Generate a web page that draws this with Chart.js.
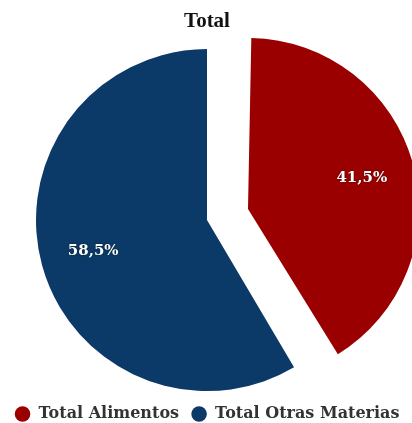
<!DOCTYPE html>
<html>
<head>
<meta charset="utf-8">
<script src="https://cdn.jsdelivr.net/npm/chart.js@4"></script>
<style>
    html, body { margin: 0; padding: 0; background: #fff; }
    #wrap { width: 412px; height: 423px; }
</style>
</head>
<body>
<div id="wrap"><canvas id="totalChart"></canvas></div>
<script>
const categories = ['Total Alimentos', 'Total Otras Materias'];
const shares = [41.5, 58.5];
const sliceColors = ['#9a0000', '#0b3a68'];
// Chart.js moves an arc by offset / 4 when drawing it
const sliceOffsets = [170, 0];
const pieRadius = 171;

// Chart.js also grows an offset arc's radius; shrink it back so both slices share one radius
const keepRadius = {
    id: 'keepRadius',
    afterDatasetUpdate(chart, args) {
        args.meta.data.forEach((arc, i) => {
            const shift = sliceOffsets[i] / 4;
            const fix = 1 - Math.sin(Math.min(Math.PI, arc.circumference));
            arc.outerRadius = pieRadius - shift * fix;
        });
    }
};

// Percent labels drawn inside each slice
const sliceLabels = {
    id: 'sliceLabels',
    afterDatasetsDraw(chart) {
        const ctx = chart.ctx;
        const meta = chart.getDatasetMeta(0);
        ctx.save();
        ctx.font = 'bold 15px "DejaVu Serif"';
        ctx.fillStyle = '#ffffff';
        ctx.textAlign = 'center';
        ctx.textBaseline = 'middle';
        ctx.shadowColor = 'rgba(0,0,0,0.6)';
        ctx.shadowBlur = 2;
        meta.data.forEach((arc, i) => {
            const mid = (arc.startAngle + arc.endAngle) / 2;
            const dist = sliceOffsets[i] / 4 + pieRadius * 0.69;
            const x = arc.x + Math.cos(mid) * dist;
            const y = arc.y + Math.sin(mid) * dist;
            ctx.fillText(shares[i].toFixed(1).replace('.', ',') + '%', x, y);
        });
        ctx.restore();
    }
};

new Chart(document.getElementById('totalChart'), {
    type: 'pie',
    data: {
        labels: categories,
        datasets: [{
            data: shares,
            backgroundColor: sliceColors,
            borderWidth: 0,
            offset: sliceOffsets,
            clip: false
        }]
    },
    options: {
        responsive: true,
        maintainAspectRatio: false,
        animation: false,
        radius: pieRadius,
        layout: { padding: { left: 2, top: 0, bottom: -9 } },
        plugins: {
            title: {
                display: true,
                text: 'Total',
                color: '#111',
                font: { family: '"Liberation Serif"', size: 21, weight: 'bold' },
                padding: { top: 9, bottom: 12 }
            },
            legend: {
                position: 'bottom',
                labels: {
                    usePointStyle: true,
                    pointStyle: 'circle',
                    boxWidth: 16,
                    boxHeight: 11,
                    padding: 12,
                    color: '#333',
                    font: { family: '"DejaVu Serif"', size: 16, weight: 'bold' }
                }
            },
            tooltip: { enabled: false }
        }
    },
    plugins: [keepRadius, sliceLabels]
});
</script>
</body>
</html>
